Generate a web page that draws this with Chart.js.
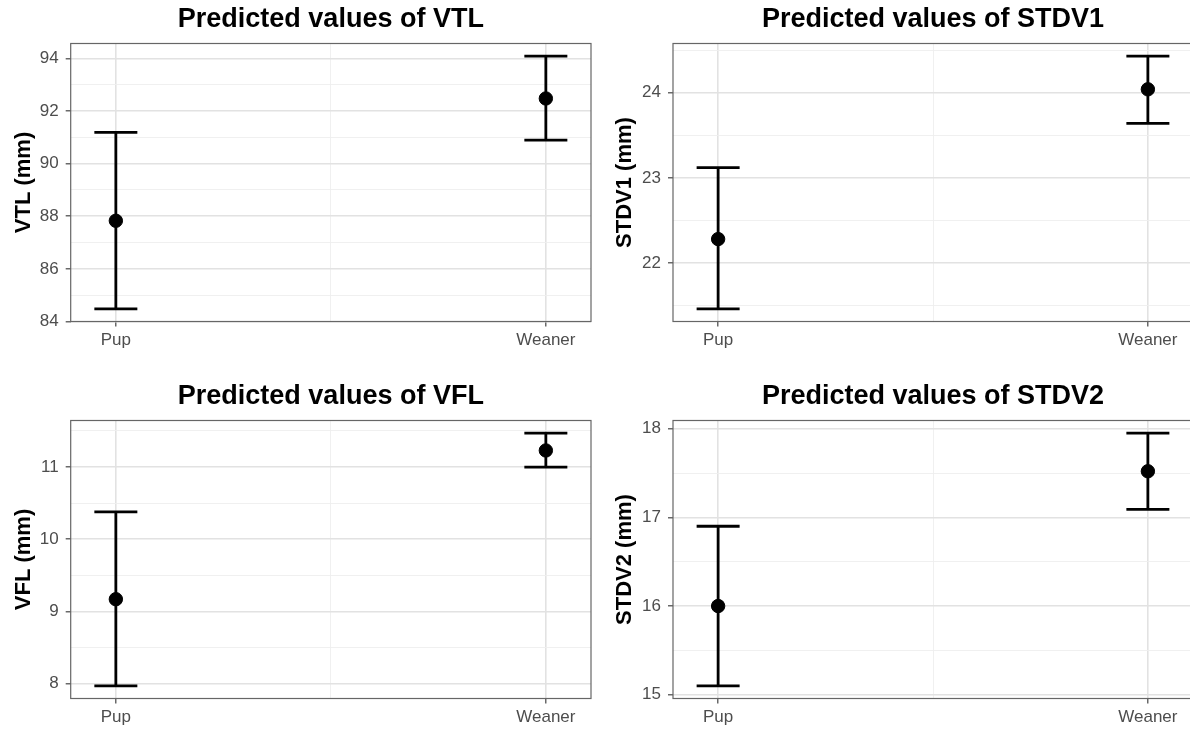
<!DOCTYPE html>
<html>
<head>
<meta charset="utf-8">
<title>Predicted values</title>
<script src="https://cdn.jsdelivr.net/npm/chart.js@4.4.1/dist/chart.umd.min.js"></script>
<style>
  html, body { margin: 0; padding: 0; background: #ffffff; overflow: hidden; width: 1190px; height: 729px; }
  canvas { position: absolute; }
</style>
</head>
<body>
<canvas id="vtl" width="596" height="360" style="left:0px;top:0px"></canvas>
<canvas id="stdv1" width="600" height="360" style="left:595px;top:0px"></canvas>
<canvas id="vfl" width="596" height="360" style="left:0px;top:377px"></canvas>
<canvas id="stdv2" width="600" height="360" style="left:595px;top:377px"></canvas>
<script>
// Age classes on the x axis
const categories = ['Pup', 'Weaner'];

// Predicted values with lower / upper confidence limits (mm)
const vtlFit = [87.83, 92.48];
const vtlLow = [84.48, 90.90];
const vtlHigh = [91.19, 94.09];

const stdv1Fit = [22.28, 24.04];
const stdv1Low = [21.46, 23.64];
const stdv1High = [23.12, 24.43];

const vflFit = [9.17, 11.23];
const vflLow = [7.97, 11.00];
const vflHigh = [10.38, 11.47];

const stdv2Fit = [16.00, 17.52];
const stdv2Low = [15.10, 17.09];
const stdv2High = [16.90, 17.95];

// Labelled y-axis ticks
const vtlTicks = [84, 86, 88, 90, 92, 94];
const stdv1Ticks = [22, 23, 24];
const vflTicks = [8, 9, 10, 11];
const stdv2Ticks = [15, 16, 17, 18];

Chart.defaults.font.family = "'Liberation Sans', Arial, Helvetica, sans-serif";

const panels = [
  { id: 'vtl', title: 'Predicted values of VTL', axisTitle: 'VTL (mm)',
    fit: vtlFit, low: vtlLow, high: vtlHigh, ticks: vtlTicks,
    axisWidth: 70.7, rightPad: 5, titlePad: 10.8 },
  { id: 'stdv1', title: 'Predicted values of STDV1', axisTitle: 'STDV1 (mm)',
    fit: stdv1Fit, low: stdv1Low, high: stdv1High, ticks: stdv1Ticks,
    axisWidth: 78, rightPad: 2, titlePad: 16.3 },
  { id: 'vfl', title: 'Predicted values of VFL', axisTitle: 'VFL (mm)',
    fit: vflFit, low: vflLow, high: vflHigh, ticks: vflTicks,
    axisWidth: 70.7, rightPad: 5, titlePad: 10.8 },
  { id: 'stdv2', title: 'Predicted values of STDV2', axisTitle: 'STDV2 (mm)',
    fit: stdv2Fit, low: stdv2Low, high: stdv2High, ticks: stdv2Ticks,
    axisWidth: 78, rightPad: 2, titlePad: 16.3 }
];

const MAJOR_GRID = '#e2e2e2';
const MINOR_GRID = '#eeeeee';

const gridStyle = {
  color: c => (c.tick && c.tick.minor) ? MINOR_GRID : MAJOR_GRID,
  lineWidth: c => (c.tick && c.tick.minor) ? 0.9 : 1.6,
  tickColor: c => (c.tick && c.tick.minor) ? 'rgba(0,0,0,0)' : '#444444',
  tickWidth: 1.2,
  tickLength: 5,
  drawTicks: true
};

// Panel border drawn over the grid
const framePlugin = {
  id: 'frame',
  beforeDatasetsDraw(chart) {
    const a = chart.chartArea, ctx = chart.ctx;
    ctx.save();
    ctx.strokeStyle = '#666666';
    ctx.lineWidth = 1.2;
    ctx.strokeRect(a.left, a.top, a.right - a.left, a.bottom - a.top);
    ctx.restore();
  }
};

// Vertical error bars with end caps, positioned through the chart scales
function errorBars(low, high) {
  return {
    id: 'errorBars',
    beforeDatasetsDraw(chart) {
      const xs = chart.scales.x, ys = chart.scales.y, ctx = chart.ctx;
      const half = 21.5;
      ctx.save();
      ctx.strokeStyle = '#000000';
      ctx.lineWidth = 2.8;
      ctx.lineCap = 'butt';
      categories.forEach((c, i) => {
        const x = xs.getPixelForValue(i + 1);
        const yLo = ys.getPixelForValue(low[i]);
        const yHi = ys.getPixelForValue(high[i]);
        ctx.beginPath();
        ctx.moveTo(x, yLo); ctx.lineTo(x, yHi);
        ctx.moveTo(x - half, yLo); ctx.lineTo(x + half, yLo);
        ctx.moveTo(x - half, yHi); ctx.lineTo(x + half, yHi);
        ctx.stroke();
      });
      ctx.restore();
    }
  };
}

function buildPanel(p) {
  const lo = Math.min(...p.low), hi = Math.max(...p.high);
  const span = hi - lo;
  const yMin = lo - 0.05 * span, yMax = hi + 0.05 * span;

  const step = p.ticks[1] - p.ticks[0];
  const yTicks = p.ticks.map(v => ({ value: v }));
  for (let i = -1; i < p.ticks.length; i++) {
    const v = p.ticks[0] + (i + 0.5) * step;
    if (v > yMin && v < yMax) yTicks.push({ value: v, minor: true });
  }
  yTicks.sort((a, b) => a.value - b.value);

  const xPos = categories.map((c, i) => i + 1);
  const xTicks = xPos.map(v => ({ value: v }));
  for (let i = 0; i < xPos.length - 1; i++) xTicks.push({ value: xPos[i] + 0.5, minor: true });
  xTicks.sort((a, b) => a.value - b.value);
  const xPad = 0.105;

  new Chart(document.getElementById(p.id), {
    type: 'scatter',
    data: {
      datasets: [{
        data: xPos.map((x, i) => ({ x: x, y: p.fit[i] })),
        pointRadius: 6.7,
        pointHoverRadius: 6.7,
        pointBackgroundColor: '#000000',
        pointBorderColor: '#000000',
        pointBorderWidth: 1
      }]
    },
    options: {
      responsive: false,
      animation: false,
      events: [],
      layout: { autoPadding: false, padding: { left: 0, right: p.rightPad, top: 0, bottom: 0 } },
      plugins: {
        legend: { display: false },
        tooltip: { enabled: false },
        title: {
          display: true,
          text: p.title,
          fullSize: false,
          color: '#000000',
          font: { size: 27, weight: 'bold' },
          padding: { top: 3, bottom: 8.1 }
        }
      },
      scales: {
        x: {
          type: 'linear',
          min: 1 - xPad,
          max: xPos.length + xPad,
          afterBuildTicks: s => { s.ticks = xTicks.map(t => Object.assign({}, t)); },
          afterFit: s => { s.height = 38.5; s.paddingLeft = 0; s.paddingRight = 0; },
          ticks: {
            autoSkip: false,
            maxRotation: 0,
            padding: 4,
            color: '#4d4d4d',
            font: { size: 17 },
            callback: v => Number.isInteger(v) ? categories[v - 1] : ''
          },
          grid: gridStyle,
          border: { display: false }
        },
        y: {
          type: 'linear',
          min: yMin,
          max: yMax,
          afterBuildTicks: s => { s.ticks = yTicks.map(t => Object.assign({}, t)); },
          afterFit: s => { s.width = p.axisWidth; s.paddingTop = 0; s.paddingBottom = 0; },
          ticks: {
            autoSkip: false,
            padding: 7,
            color: '#4d4d4d',
            font: { size: 17 },
            callback: v => p.ticks.includes(v) ? String(v) : ''
          },
          grid: gridStyle,
          border: { display: false },
          title: {
            display: true,
            text: p.axisTitle,
            color: '#000000',
            font: { size: 22, weight: 'bold' },
            padding: { top: p.titlePad, bottom: 0 }
          }
        }
      }
    },
    plugins: [framePlugin, errorBars(p.low, p.high)]
  });
}

panels.forEach(buildPanel);
</script>
</body>
</html>
